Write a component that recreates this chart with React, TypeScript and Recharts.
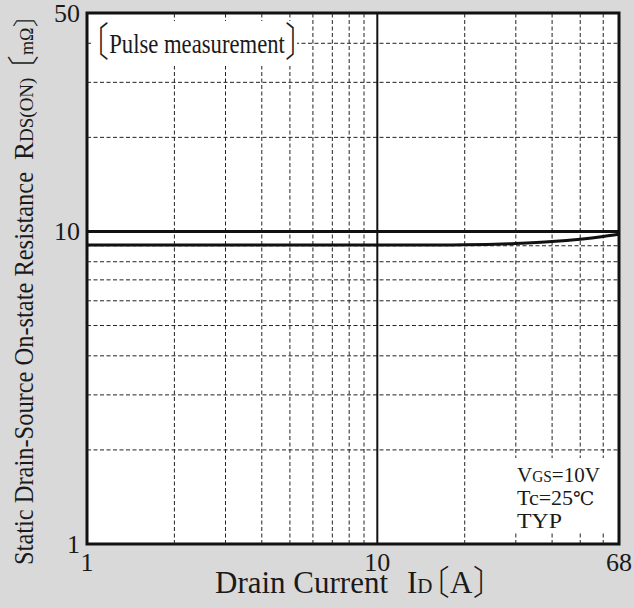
import {
  CartesianGrid,
  ComposedChart,
  Line,
  ReferenceArea,
  ReferenceLine,
  XAxis,
  YAxis,
} from "recharts";

// Drain current ID [A] vs. static drain-source on-state resistance RDS(ON) [mΩ]
const currentA = [1, 2, 5, 10, 15, 20, 30, 40, 50, 60, 68];
const rdsOn = [9.05, 9.05, 9.05, 9.05, 9.05, 9.06, 9.15, 9.28, 9.45, 9.64, 9.8];

const xTicks = [1, 10, 68];
const yTicks = [1, 10, 50];
const xMinorGrid = [2, 3, 4, 5, 6, 7, 8, 9, 20, 30, 40, 50, 60];
const yMinorGrid = [2, 3, 4, 5, 6, 7, 8, 9, 20, 30, 40];
const xMajorGrid = [10];
const yMajorGrid = [10];

const data = currentA.map((id, i) => ({ id, r: rdsOn[i] }));

const SERIF = "'Liberation Serif', 'Times New Roman', serif";
const CJK = "'Noto Sans CJK JP', 'Liberation Serif', serif";
const INK = "#1a1a1a";
const GRID = "#222";
// half-width CJK brackets, so they sit tight against the Latin text
const bracket = { fontFamily: CJK, fontWeight: 300, style: { fontFeatureSettings: '"halt"' } };

function XTick({ x, y, payload }: any) {
  return (
    <text x={x} y={y + 25} textAnchor="middle" fontSize={26} fontFamily={SERIF} fill={INK}>
      {payload.value}
    </text>
  );
}

function YTick({ x, y, payload }: any) {
  return (
    <text x={x} y={y + 9} textAnchor="end" fontSize={26} fontFamily={SERIF} fill={INK}>
      {payload.value}
    </text>
  );
}

function XTitle() {
  return (
    <text x={215} y={593} fontSize={31} fontFamily={SERIF} fill={INK}>
      Drain Current
      <tspan dx={19}>I</tspan>
      <tspan fontSize={21}>D</tspan>
      <tspan dx={0.5} dy={2} fontSize={34} {...bracket}>〔</tspan>
      <tspan dy={-2}>A</tspan>
      <tspan dy={2} fontSize={34} {...bracket}>〕</tspan>
    </text>
  );
}

function YTitle() {
  return (
    <g fill={INK} transform="translate(33, 0) rotate(-90)">
      <text x={-565} y={0} fontSize={27} fontFamily={SERIF} textLength={393} lengthAdjust="spacingAndGlyphs">
        Static Drain-Source On-state Resistance
      </text>
      <text x={-160} y={0} fontSize={27} fontFamily={SERIF}>
        R<tspan fontSize={19}>DS(ON)</tspan>
        <tspan dx={6.6} dy={2} fontSize={32} {...bracket}>〔</tspan>
        <tspan dy={-2} fontSize={18}>mΩ</tspan>
        <tspan dy={2} fontSize={26} {...bracket}>〕</tspan>
      </text>
    </g>
  );
}

function Notes() {
  return (
    <svg
      width={634}
      height={608}
      style={{ position: "absolute", left: 0, top: 0, pointerEvents: "none" }}
    >
      <rect x={92} y={21} width={205} height={45} fill="#ffffff" />
      <text
        transform="translate(93, 56) scale(0.81, 1)"
        fontSize={28}
        fontFamily={SERIF}
        fill={INK}
      >
        <tspan fontSize={40} {...bracket}>〔</tspan>
        <tspan dy={-3}>Pulse measurement</tspan>
        <tspan dy={3} fontSize={40} {...bracket}>〕</tspan>
      </text>
      <rect x={512} y={458} width={95} height={74} fill="#ffffff" />
      <text x={517} y={482} fontSize={22} fontFamily={SERIF} fill={INK} textLength={83} lengthAdjust="spacingAndGlyphs">
        V<tspan fontSize={16}>GS</tspan>=10V
      </text>
      <text x={517} y={505} fontSize={22} fontFamily={SERIF} fill={INK}>
        Tc=25<tspan fontFamily="'DejaVu Serif', serif" fontSize={19}>℃</tspan>
      </text>
      <text x={517} y={528} fontSize={22} fontFamily={SERIF} fill={INK} textLength={45} lengthAdjust="spacingAndGlyphs">
        TYP
      </text>
    </svg>
  );
}

export default function App() {
  return (
    <div
      style={{
        position: "absolute",
        left: 0,
        top: 0,
        width: 634,
        height: 608,
        background: "#d9d9d9",
      }}
    >
      <ComposedChart
        width={634}
        height={608}
        data={data}
        margin={{ top: 13, right: 15, bottom: 0, left: 0 }}
      >
        <CartesianGrid horizontal={false} vertical={false} fill="#ffffff" />
        <XAxis
          dataKey="id"
          type="number"
          scale="log"
          domain={[1, 68]}
          ticks={xTicks}
          interval={0}
          allowDataOverflow
          axisLine={false}
          tickLine={false}
          tickSize={0}
          height={64}
          tick={<XTick />}
          label={{ content: <XTitle /> }}
        />
        <YAxis
          type="number"
          scale="log"
          domain={[1, 50]}
          ticks={yTicks}
          interval={0}
          allowDataOverflow
          axisLine={false}
          tickLine={false}
          tickSize={0}
          tickMargin={7}
          width={87}
          tick={<YTick />}
          label={{ content: <YTitle /> }}
        />
        {xMinorGrid.map((v) => (
          <ReferenceLine key={`x${v}`} x={v} stroke={GRID} strokeWidth={1} strokeDasharray="4 2.5" />
        ))}
        {yMinorGrid.map((v) => (
          <ReferenceLine key={`y${v}`} y={v} stroke={GRID} strokeWidth={1} strokeDasharray="4 2.5" />
        ))}
        {xMajorGrid.map((v) => (
          <ReferenceLine key={`X${v}`} x={v} stroke="#111" strokeWidth={2} />
        ))}
        {yMajorGrid.map((v) => (
          <ReferenceLine key={`Y${v}`} y={v} stroke="#111" strokeWidth={3} />
        ))}
        <Line
          dataKey="r"
          type="monotone"
          stroke="#111"
          strokeWidth={3}
          dot={false}
          isAnimationActive={false}
        />
        <ReferenceArea
          x1={1}
          x2={68}
          y1={1}
          y2={50}
          fill="none"
          fillOpacity={0}
          stroke="#111"
          strokeWidth={3}
        />
      </ComposedChart>
      <Notes />
    </div>
  );
}
